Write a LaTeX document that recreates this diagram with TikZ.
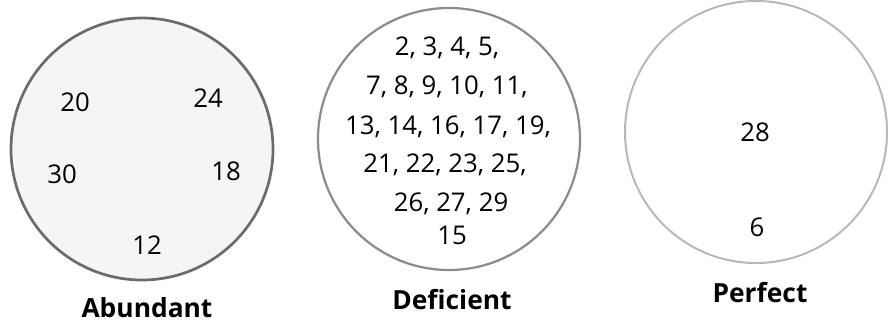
\documentclass[tikz,border=0pt]{standalone}
\usepackage{fontspec}
\setmainfont{Open Sans}
\tikzset{
  numset/.style={circle,inner sep=0pt,minimum size=7.86cm},
  num/.style={font=\fontsize{22}{26}\selectfont,inner sep=1pt},
  setname/.style={font=\fontsize{22.5}{26}\selectfont\bfseries,inner sep=1pt}
}
\begin{document}
\begin{tikzpicture}
  \useasboundingbox (0,0) rectangle (26.73,-9.87);
  \node[numset,draw=black!58,fill=black!4,line width=2.3pt] (abund) at (4.26,-4.47) {};
  \node[numset,draw=black!45,line width=1.9pt] (defic) at (13.47,-4.17) {};
  \node[numset,draw=black!28,line width=1.7pt] (perf) at (22.68,-3.96) {};
  \node[num] (n20) at (2.25,-3.06) {20};
  \node[num] (n24) at (6.24,-2.94) {24};
  \node[num] (n30) at (1.86,-5.22) {30};
  \node[num] (n18) at (6.78,-5.13) {18};
  \node[num] (n12) at (4.41,-7.35) {12};
  \node[setname] (abundlbl) at (4.41,-9.24) {Abundant};
  \node[num] (row1) at (13.41,-1.44) {2, 3, 4, 5,};
  \node[num] (row2) at (13.41,-2.61) {7, 8, 9, 10, 11,};
  \node[num] (row3) at (13.44,-3.81) {13, 14, 16, 17, 19,};
  \node[num] (row4) at (13.35,-4.95) {21, 22, 23, 25,};
  \node[num] (row5) at (13.53,-6.12) {26, 27, 29};
  \node[num] (row6) at (13.56,-7.05) {15};
  \node[setname] (deficlbl) at (13.56,-9.0) {Deficient};
  \node[num] (n28) at (22.65,-3.96) {28};
  \node[num] (n6) at (22.71,-6.81) {6};
  \node[setname] (perflbl) at (22.8,-8.79) {Perfect};
\end{tikzpicture}
\end{document}
